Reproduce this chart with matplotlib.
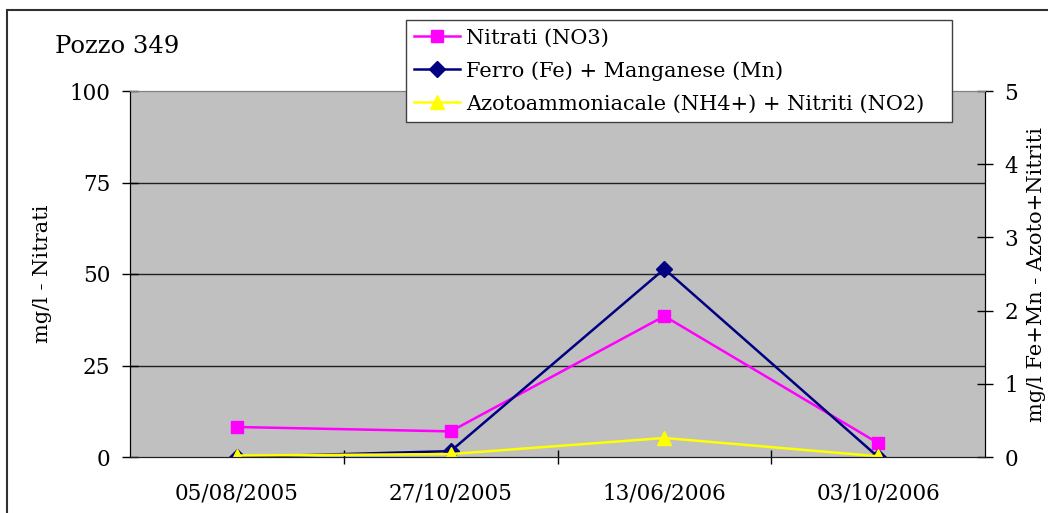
import numpy as np
import matplotlib.pyplot as plt
from matplotlib.patches import Rectangle

plt.rcParams['font.family'] = ['DejaVu Serif']

dates = ['05/08/2005', '27/10/2005', '13/06/2006', '03/10/2006']
nitrati = [8.2, 7.0, 38.5, 3.8]
ferro_mn = [0.0, 0.08, 2.57, 0.0]
azoto_nitriti = [0.02, 0.04, 0.26, 0.01]

x = np.arange(len(dates))

fig = plt.figure(figsize=(10.48, 5.13), dpi=100)
ax1 = fig.add_axes([130/1048, 56/513, 855/1048, 366/513])
ax1.set_facecolor('#C0C0C0')
ax2 = ax1.twinx()

p0, = ax1.plot(x, nitrati, color='#FF00FF', linewidth=1.8, marker='s',
               markersize=9, label='Nitrati (NO3)')
p1, = ax2.plot(x, ferro_mn, color='#000080', linewidth=1.8, marker='D',
               markersize=8, label='Ferro (Fe) + Manganese (Mn)')
p2, = ax2.plot(x, azoto_nitriti, color='#FFFF00', linewidth=1.8, marker='^',
               markersize=10, label='Azotoammoniacale (NH4+) + Nitriti (NO2)')

ax1.set_xlim(-0.5, 3.5)
ax1.set_ylim(0, 100)
ax2.set_ylim(0, 5)
ax1.set_yticks([0, 25, 50, 75, 100])
ax2.set_yticks([0, 1, 2, 3, 4, 5])
ax1.set_xticks(x)
ax1.set_xticklabels(dates)
ax1.set_xticks([0.5, 1.5, 2.5], minor=True)
ax1.tick_params(axis='x', which='major', length=0, pad=18, labelsize=15.5)
ax1.tick_params(axis='x', which='minor', direction='inout', length=10, width=1)
ax1.tick_params(axis='y', direction='inout', length=12, width=1, labelsize=15.5, pad=8)
ax2.tick_params(axis='y', direction='inout', length=12, width=1, labelsize=15.5, pad=8)

for v in [25, 50, 75]:
    ax1.axhline(v, color='#202020', linewidth=1, zorder=1)

for ax in (ax1, ax2):
    ax.spines['top'].set_color('#808080')
    ax.spines['left'].set_color('black')
    ax.spines['right'].set_color('black')
    ax.spines['bottom'].set_color('#202020')

ax1.set_ylabel('mg/l - Nitrati', fontsize=15, labelpad=13)
ax2.set_ylabel('mg/l Fe+Mn - Azoto+Nitriti', fontsize=15, labelpad=6)

fig.text(55/1048, 1 - 47/513, 'Pozzo 349', fontsize=17.5, va='center', ha='left')

leg = fig.legend(handles=[p0, p1, p2], loc='upper left',
                 bbox_to_anchor=(406/1048, 1 - 122/513, 546/1048, 102/513),
                 mode='expand', fontsize=15,
                 fancybox=False, framealpha=1, edgecolor='#404040',
                 handlelength=2.2, handletextpad=0.3, labelspacing=0.66,
                 borderpad=0.4, borderaxespad=0)
leg.get_frame().set_linewidth(1)

fig.patches.append(Rectangle((7/1048, -0.1), 1.5, 1.1 - 10/513,
                             transform=fig.transFigure, fill=False,
                             edgecolor='#303030', linewidth=1.5))

plt.savefig('out.png', dpi=100)
